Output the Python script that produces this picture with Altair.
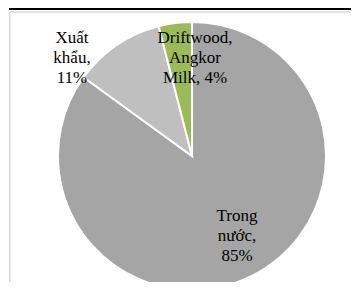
import altair as alt
import pandas as pd

categories = ["Trong nước", "Xuất khẩu", "Driftwood, Angkor Milk"]
shares = [85, 11, 4]
colors = ["#a5a5a5", "#bfbfbf", "#9bbb59"]
label_lines = [["Trong", "nước,", "85%"], ["Xuất", "khẩu,", "11%"], ["Driftwood,", "Angkor", "Milk, 4%"]]

df = pd.DataFrame({"cat": categories, "share": shares, "idx": list(range(len(categories)))})
one = pd.DataFrame({"k": [0]})

W, H = 343, 274
CX, CY, R = 183, 147, 134

pie = alt.Chart(df).mark_arc(radius=R, stroke="white", strokeWidth=2).encode(
    theta=alt.Theta("share:Q", stack=True),
    order=alt.Order("idx:Q"),
    color=alt.Color("cat:N", scale=alt.Scale(domain=categories, range=colors), legend=None),
    x=alt.value(CX),
    y=alt.value(CY),
)

label_pos = [(228, 212), (63, 34), (186, 34)]
labels = []
for lines, (lx, ly) in zip(label_lines, label_pos):
    labels.append(
        alt.Chart(one).mark_text(
            font="Liberation Serif, Times New Roman, DejaVu Serif, serif", fontSize=17,
            color="black", align="center", baseline="alphabetic", lineHeight=20
        ).encode(x=alt.value(lx), y=alt.value(ly), text=alt.value(lines))
    )

black_rule = alt.Chart(one).mark_rule(color="black", strokeWidth=2).encode(
    x=alt.value(0), x2=alt.value(W), y=alt.value(0)
)
top_border = alt.Chart(one).mark_rule(color="#d9d9d9", strokeWidth=1.5).encode(
    x=alt.value(0), x2=alt.value(W), y=alt.value(3)
)
left_border = alt.Chart(one).mark_rule(color="#d9d9d9", strokeWidth=1.5).encode(
    x=alt.value(0.75), y=alt.value(3), y2=alt.value(H)
)

chart = alt.layer(pie, *labels, black_rule, top_border, left_border).properties(
    width=W, height=H,
    padding={"left": 0, "top": 0, "right": 0, "bottom": 0},
    autosize=alt.AutoSizeParams(type="fit", contains="padding"),
).configure_view(stroke=None)

chart.save("out.html", embed_options={"renderer": "svg", "actions": False})
